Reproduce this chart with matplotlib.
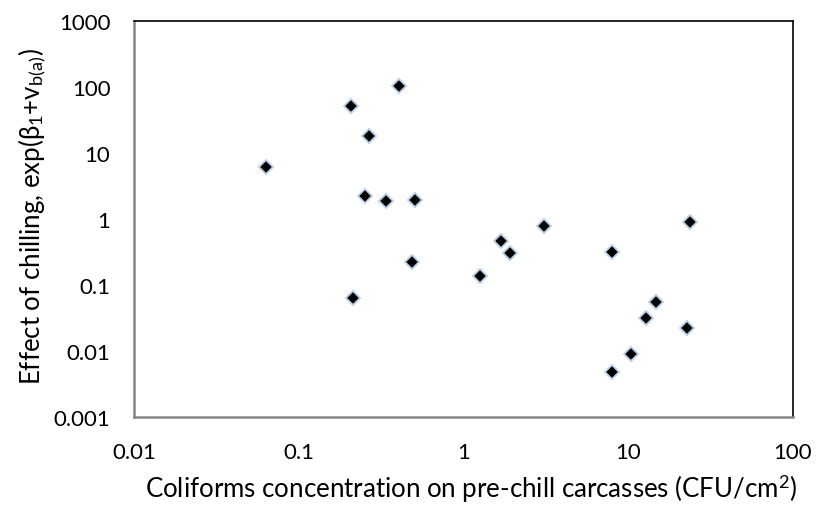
import matplotlib
matplotlib.use("Agg")
import matplotlib.pyplot as plt
from matplotlib.ticker import FixedLocator, NullLocator

plt.rcParams["font.family"] = ["Lato", "DejaVu Sans"]
plt.rcParams["mathtext.fontset"] = "custom"
plt.rcParams["mathtext.rm"] = "Lato"
plt.rcParams["mathtext.it"] = "Lato:italic"
plt.rcParams["mathtext.fallback"] = "stixsans"

# coliforms on pre-chill carcasses (CFU/cm2) vs effect of chilling
coliforms = [0.407, 0.209, 0.268, 0.0632, 0.254, 0.339, 0.508, 0.485, 0.214,
             3.07, 23.7, 1.68, 1.91, 8.0, 1.26, 14.7, 12.8, 22.7, 10.4, 8.0]
chill_effect = [105, 51, 17.9, 6.1, 2.26, 1.90, 1.97, 0.222, 0.0647,
                0.796, 0.895, 0.472, 0.307, 0.321, 0.139, 0.0551, 0.0319,
                0.0223, 0.00908, 0.0048]

x_ticks = [0.01, 0.1, 1, 10, 100]
x_labels = ["0.01", "0.1", "1", "10", "100"]
y_ticks = [0.001, 0.01, 0.1, 1, 10, 100, 1000]
y_labels = ["0.001", "0.01", "0.1", "1", "10", "100", "1000"]

fig = plt.figure(figsize=(8.16, 5.06), dpi=100)
ax = fig.add_axes([0.1642, 0.1733, 0.8076, 0.7832])

ax.plot(coliforms, chill_effect, linestyle="none", marker="D",
        markersize=7.5, markerfacecolor="black",
        markeredgecolor="#b9cde5", markeredgewidth=1.3)

ax.set_xscale("log")
ax.set_yscale("log")
ax.set_xlim(0.01, 100)
ax.set_ylim(0.001, 1000)
ax.xaxis.set_major_locator(FixedLocator(x_ticks))
ax.yaxis.set_major_locator(FixedLocator(y_ticks))
ax.xaxis.set_minor_locator(NullLocator())
ax.yaxis.set_minor_locator(NullLocator())
ax.set_xticklabels(x_labels)
ax.set_yticklabels(y_labels)
ax.tick_params(length=0, labelsize=16, colors="black")
ax.tick_params(axis="x", pad=18)
ax.tick_params(axis="y", pad=17)

for side in ["left", "bottom"]:
    ax.spines[side].set_color("#868686")
    ax.spines[side].set_linewidth(1.8)
for side in ["top", "right"]:
    ax.spines[side].set_color("black")
    ax.spines[side].set_linewidth(1.2)

ax.set_xlabel("Coliforms concentration on pre-chill carcasses (CFU/cm$^2$)",
              fontsize=18.6)
ax.set_ylabel(r"Effect of chilling, exp(β$_1$+v$_{\mathrm{b(a)}}$)",
              fontsize=18.6)
ax.xaxis.set_label_coords(0.511, -0.137)
ax.yaxis.set_label_coords(-0.129, 0.508)

fig.savefig("out.png", dpi=100)
